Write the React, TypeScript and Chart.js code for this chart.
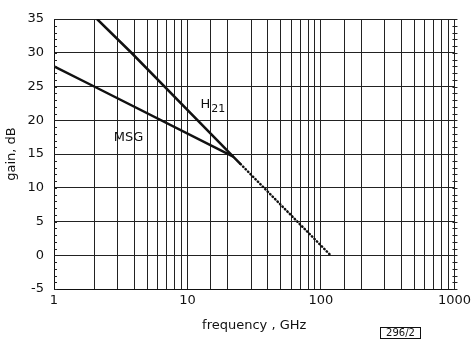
import React, { useEffect, useRef } from "react";
import { Chart, registerables } from "chart.js";

Chart.register(...registerables);

// Data
const msgFreq = [1, 2, 22];
const msgGain = [28, 25, 14.6];
const h21Freq = [2.1, 3.8, 22, 25];
const h21Gain = [35, 30, 14.6, 13.5];
const extFreq = [25, 118];
const extGain = [13.5, 0];
const xTickLabels = [1, 10, 100, 1000];
const yMin = -5;
const yMax = 35;
const yStep = 5;

const FONT = "'DejaVu Sans', sans-serif";

const toPts = (xs: number[], ys: number[]) => xs.map((x, i) => ({ x, y: ys[i] }));

const decorPlugin = {
  id: "decor",
  afterDraw(chart: any) {
    const { ctx, scales, chartArea } = chart;
    const xs = scales.x;
    const ys = scales.y;
    ctx.save();
    // minor y ticks every 1 dB
    ctx.strokeStyle = "#222";
    ctx.lineWidth = 1;
    for (let v = yMin; v <= yMax; v += 1) {
      const py = Math.round(ys.getPixelForValue(v)) + 0.5;
      ctx.beginPath();
      ctx.moveTo(chartArea.left, py);
      ctx.lineTo(chartArea.left + 3, py);
      ctx.moveTo(chartArea.right - 2, py);
      ctx.lineTo(chartArea.right + 3, py);
      ctx.stroke();
    }
    // curve labels
    ctx.fillStyle = "#111";
    ctx.textBaseline = "middle";
    ctx.textAlign = "left";
    ctx.font = `13px ${FONT}`;
    const hx = xs.getPixelForValue(12.5);
    const hy = ys.getPixelForValue(22.3);
    ctx.fillText("H", hx, hy);
    const hw = ctx.measureText("H").width;
    ctx.font = `11px ${FONT}`;
    ctx.fillText("21", hx + hw + 1, hy + 4);
    ctx.font = `13px ${FONT}`;
    ctx.fillText("MSG", xs.getPixelForValue(2.8), ys.getPixelForValue(17.5));
    // figure id box
    ctx.font = `10px ${FONT}`;
    ctx.textAlign = "center";
    ctx.strokeStyle = "#111";
    ctx.strokeRect(380.5, 327.5, 40, 11);
    ctx.fillText("296/2", 400.5, 333.5);
    ctx.restore();
  },
};

export default function App() {
  const ref = useRef<HTMLCanvasElement | null>(null);
  useEffect(() => {
    if (!ref.current) return;
    const chart = new Chart(ref.current, {
      type: "line",
      data: {
        datasets: [
          {
            label: "MSG",
            data: toPts(msgFreq, msgGain),
            borderColor: "#111",
            borderWidth: 2.5,
            pointRadius: 0,
            tension: 0,
          },
          {
            label: "H21",
            data: toPts(h21Freq, h21Gain),
            borderColor: "#111",
            borderWidth: 2.5,
            pointRadius: 0,
            tension: 0,
          },
          {
            label: "H21 extrapolated",
            data: toPts(extFreq, extGain),
            borderColor: "#111",
            borderWidth: 2.5,
            borderDash: [0.5, 3],
            borderCapStyle: "round",
            pointRadius: 0,
            tension: 0,
          },
        ],
      },
      options: {
        animation: false,
        responsive: false,
        layout: { padding: { left: 4, right: 14, top: 19, bottom: 0 } },
        plugins: { legend: { display: false }, tooltip: { enabled: false } },
        scales: {
          x: {
            type: "logarithmic",
            min: 1,
            max: 1000,
            afterFit: (s: any) => {
              s.height = 50;
            },
            grid: { color: "#222", lineWidth: 1, drawTicks: false },
            border: { color: "#111", width: 1 },
            ticks: {
              autoSkip: false,
              maxRotation: 0,
              padding: 4,
              color: "#111",
              font: { family: FONT, size: 13 },
              callback: (v: any) => (xTickLabels.includes(Number(v)) ? String(v) : ""),
            },
            title: {
              display: true,
              text: "frequency , GHz",
              color: "#111",
              font: { family: FONT, size: 13 },
              padding: { top: 2, bottom: 6 },
            },
          },
          y: {
            min: yMin,
            max: yMax,
            afterFit: (s: any) => {
              s.width = 50;
            },
            grid: { color: "#222", lineWidth: 1, drawTicks: false },
            border: { color: "#111", width: 1 },
            ticks: {
              stepSize: yStep,
              padding: 10,
              color: "#111",
              font: { family: FONT, size: 13 },
            },
            title: {
              display: true,
              text: "gain, dB",
              color: "#111",
              font: { family: FONT, size: 13 },
              padding: { top: 0, bottom: 0 },
            },
          },
        },
      },
      plugins: [decorPlugin],
    } as any);
    return () => chart.destroy();
  }, []);
  return (
    <div style={{ position: "fixed", left: 0, top: 0, width: 475, height: 339, background: "#fff" }}>
      <canvas ref={ref} width={475} height={339} />
    </div>
  );
}
